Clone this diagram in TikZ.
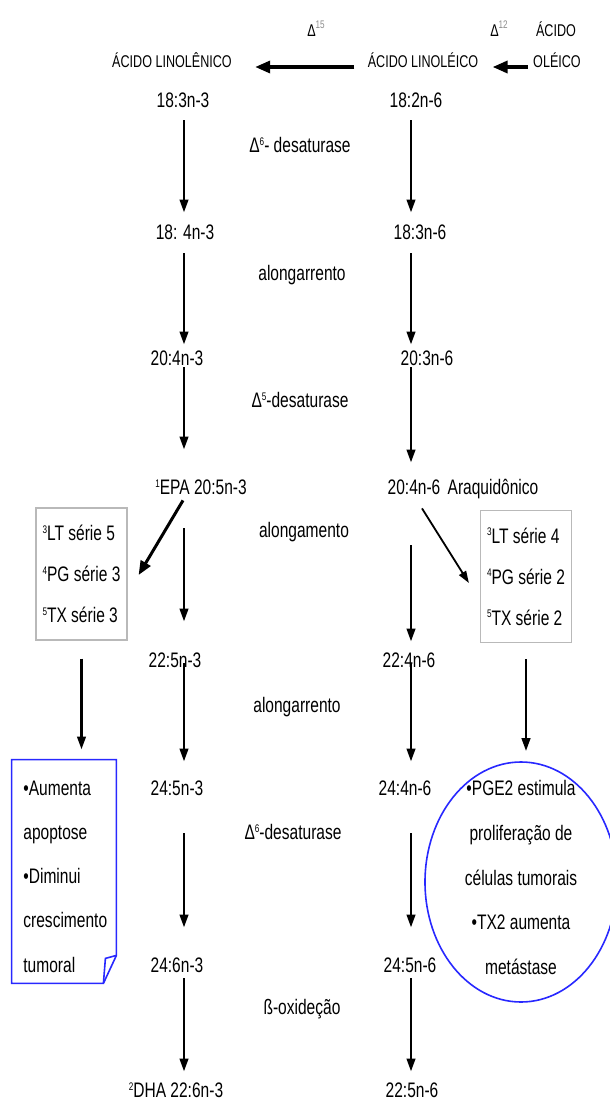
\documentclass[tikz,border=0pt]{standalone}
\usepackage{fontspec}
\setmainfont{Liberation Sans}[FakeStretch=0.74]
\usetikzlibrary{arrows.meta,calc,shapes.geometric}
\definecolor{boxgray}{RGB}{185,185,185}
\definecolor{noteblue}{RGB}{40,40,255}
\definecolor{supgray}{RGB}{140,140,140}
\newcommand\colarrow[5]{\draw[arr] ($(#1.south -| #3)+(0,#4)$) -- ($(#2.north -| #3)+(0,-#5)$);}
\newcommand\sups[1]{\raisebox{3.6pt}{\fontsize{5.5}{6}\selectfont #1}}
\begin{document}
\begin{tikzpicture}[x=0.5pt,y=-0.5pt,
  lab/.style={inner sep=0pt, text height=7.5pt, text depth=0pt, font=\fontsize{10.5}{12}\selectfont},
  toplab/.style={inner sep=0pt, text height=6pt, text depth=0pt, font=\fontsize{8.5}{10}\selectfont},
  arr/.style={line width=1.35pt, -{Triangle[length=6.5pt,width=4.2pt]}},
  harr/.style={line width=1.7pt, -{Triangle[length=7.5pt,width=6pt]}},
  gbox/.style={draw=boxgray, line width=0.6pt, minimum width=45.5pt, minimum height=66pt, inner sep=0pt, align=left, font=\fontsize{10.5}{20.5}\selectfont},
  blueline/.style={draw=noteblue, line width=0.8pt},
]
\useasboundingbox (0,0) rectangle (610,1103);
\fill[white] (0,0) rectangle (610,1103);
\coordinate (cL) at (184,0);
\coordinate (cR) at (411,0);

% top labels
\node[toplab] (d15) at (316,30) {Δ\sups{\color{supgray}15}};
\node[toplab] (d12) at (499,30) {Δ\sups{\color{supgray}12}};
\node[toplab] (acido) at (556,30) {ÁCIDO};
\node[toplab] (oleico) at (557,62) {OLÉICO};
\node[toplab] (lnl) at (172,62) {ÁCIDO LINOLÊNICO};
\node[toplab] (lno) at (423,62) {ÁCIDO LINOLÉICO};
\draw[harr] ($(oleico.west)+(-5,5)$) -- ($(lno.east)+(14,5)$);
\draw[harr] ($(lno.west)+(-13,5)$) -- ($(lnl.east)+(23,5)$);

% column labels
\node[lab] (a1) at (183,100) {18:3n-3};
\node[lab] (b1) at (416,100) {18:2n-6};
\node[lab] (a2) at (185,232) {18: 4n-3};
\node[lab] (b2) at (420,232) {18:3n-6};
\node[lab] (a3) at (177,358) {20:4n-3};
\node[lab] (b3) at (427,358) {20:3n-6};
\node[lab] (a4) at (201,487) {\sups{1}EPA 20:5n-3};
\node[lab] (b4) at (414,487) {20:4n-6};
\node[lab] (arq) at (493,487) {Araquidônico};
\node[lab] (a5) at (175,660) {22:5n-3};
\node[lab] (b5) at (409,660) {22:4n-6};
\node[lab] (a6) at (177,788) {24:5n-3};
\node[lab] (b6) at (405,788) {24:4n-6};
\node[lab] (a7) at (177,965) {24:6n-3};
\node[lab] (b7) at (410,965) {24:5n-6};
\node[lab] (a8) at (176,1090) {\sups{2}DHA 22:6n-3};
\node[lab] (b8) at (412,1090) {22:5n-6};

% enzyme labels
\node[lab] (e1) at (300,145) {Δ\sups{6}- desaturase};
\node[lab] (e2) at (302,273) {alongarrento};
\node[lab] (e3) at (300,400) {Δ\sups{5}-desaturase};
\node[lab] (e4) at (304,530) {alongamento};
\node[lab] (e5) at (297,705) {alongarrento};
\node[lab] (e6) at (293,832) {Δ\sups{6}-desaturase};
\node[lab] (e7) at (302,1007) {ß-oxideção};

% column arrows
\colarrow{a1}{a2}{cL}{12.5}{11.5}
\colarrow{a2}{a3}{cL}{13.5}{5.5}
\colarrow{a3}{a4}{cL}{1.5}{29.5}
\colarrow{a4}{a5}{cL}{33.5}{30.5}
\colarrow{a5}{a6}{cL}{-4.5}{18.5}
\colarrow{a6}{a7}{cL}{37.5}{29.5}
\colarrow{a7}{a8}{cL}{5.5}{10.5}
\colarrow{b1}{b2}{cR}{12.5}{11.5}
\colarrow{b2}{b3}{cR}{13.5}{5.5}
\colarrow{b3}{b4}{cR}{1.5}{16.5}
\colarrow{b4}{b5}{cR}{50.5}{10.5}
\colarrow{b5}{b6}{cR}{-4.5}{18.5}
\colarrow{b6}{b7}{cR}{37.5}{29.5}
\colarrow{b7}{b8}{cR}{5.5}{10.5}

% eicosanoid boxes
\node[gbox] (lbox) at (81.5,574) {\sups{3}LT série 5\\\sups{4}PG série 3\\\sups{5}TX série 3};
\node[gbox] (rbox) at (526,576.5) {\sups{3}LT série 4\\\sups{4}PG série 2\\\sups{5}TX série 2};
\draw[line width=1.5pt, -{Triangle[length=7pt,width=5.5pt]}] ($(a4.south)+(-18,5.5)$) -- ($(lbox.east)+(11,1)$);
\draw[line width=0.9pt, -{Triangle[length=6pt,width=4pt]}] ($(b4.south)+(8,13.5)$) -- ($(rbox.west)+(-11,6.5)$);

% note (left)
\node[inner sep=0pt, minimum width=52pt, minimum height=111.5pt] (note) at (64,871.5) {};
\draw[blueline] (note.north west) -- (note.north east) -- ([yshift=14pt]note.south east) -- ([xshift=-6.5pt]note.south east) -- (note.south west) -- cycle;
\draw[blueline] ([yshift=14pt]note.south east) -- ([xshift=-5.5pt,yshift=12.5pt]note.south east) -- ([xshift=-6.5pt]note.south east);
\node[inner sep=0pt, anchor=west, align=left, font=\fontsize{10.5}{22.1}\selectfont] (notetxt) at (23,876.5) {•Aumenta\\apoptose\\•Diminui\\crescimento\\tumoral};

% circle (right)
\node[ellipse, blueline, minimum width=96pt, minimum height=120pt, inner sep=0pt] (circ) at (521,882) {};
\node[inner sep=0pt, align=center, font=\fontsize{10.5}{22.4}\selectfont] (circtxt) at (521,877.5) {•PGE2 estimula\\proliferação de\\células tumorais\\•TX2 aumenta\\metástase};

\draw[arr] ($(lbox.south)+(0,18)$) -- ($(lbox.south |- note.north)+(0,-10)$);
\draw[arr] ($(rbox.south)+(0,16)$) -- ($(rbox.south |- circ.north)+(0,-10)$);
\end{tikzpicture}
\end{document}
